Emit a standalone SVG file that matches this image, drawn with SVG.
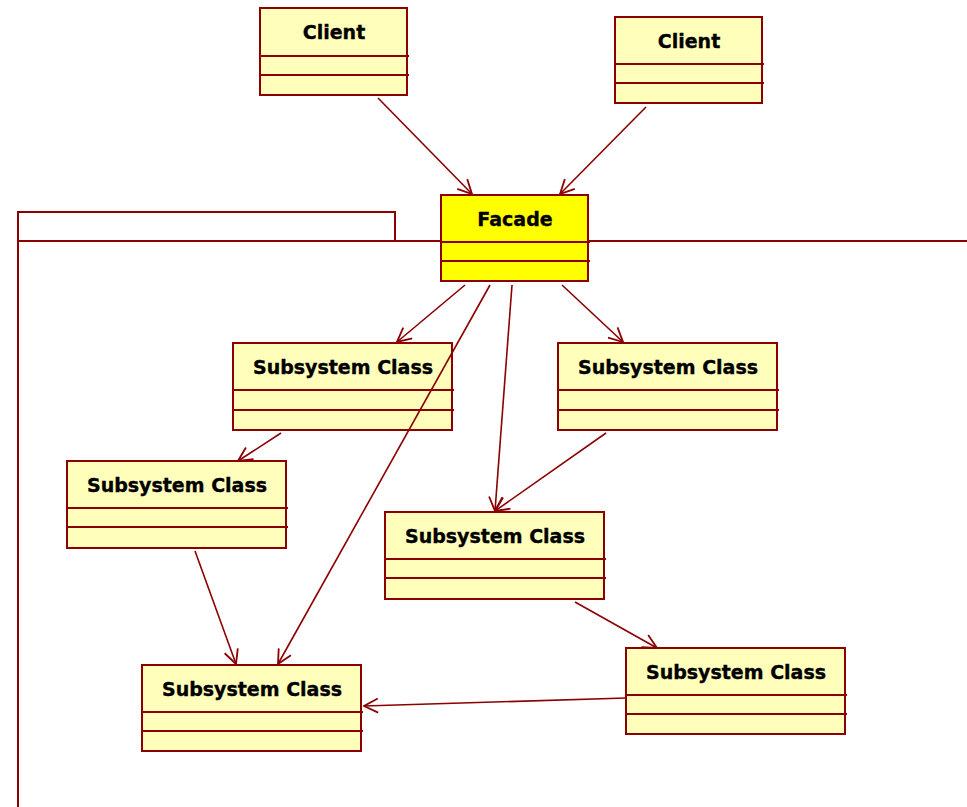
<svg xmlns="http://www.w3.org/2000/svg" width="967" height="807" viewBox="0 0 967 807">
  <style>
    .box { fill: #ffffbb; stroke: #8b0000; stroke-width: 2; }
    .facade { fill: #ffff00; }
    .sep { stroke: #8b0000; stroke-width: 2; }
    .pkg { fill: none; stroke: #8b0000; stroke-width: 2; }
    .name { font-family: "DejaVu Sans", Verdana, sans-serif; font-weight: bold; font-size: 19px; fill: #000; stroke: #000; stroke-width: 0.35; text-anchor: middle; }
    .conn line { stroke: #8b0000; stroke-width: 1.6; marker-end: url(#open); }
  </style>
  <defs>
    <marker id="open" viewBox="0 0 16 16" refX="15" refY="8" markerWidth="16" markerHeight="16" markerUnits="userSpaceOnUse" orient="auto">
      <path d="M1,1 L15,8 L1,15" fill="none" stroke="#8b0000" stroke-width="1.8"/>
    </marker>
  </defs>
  <rect width="967" height="807" fill="#ffffff"/>

  <!-- subsystem package outline -->
  <g id="package">
    <path class="pkg" d="M18,807 V212 H395 V241"/>
    <line class="pkg" x1="18" y1="241" x2="967" y2="241"/>
  </g>

  <g id="client1">
    <rect class="box" x="260" y="8" width="147" height="87"/>
    <line class="sep" x1="260" y1="56" x2="409" y2="56"/>
    <line class="sep" x1="260" y1="75" x2="409" y2="75"/>
    <text class="name" x="334" y="39">Client</text>
  </g>

  <g id="client2">
    <rect class="box" x="615" y="17" width="147" height="86"/>
    <line class="sep" x1="615" y1="64" x2="764" y2="64"/>
    <line class="sep" x1="615" y1="83" x2="764" y2="83"/>
    <text class="name" x="689" y="48">Client</text>
  </g>

  <g id="facade">
    <rect class="box facade" x="441" y="195" width="147" height="86"/>
    <line class="sep" x1="441" y1="242" x2="590" y2="242"/>
    <line class="sep" x1="441" y1="261" x2="590" y2="261"/>
    <text class="name" x="515" y="226">Facade</text>
  </g>

  <g id="subsystem1">
    <rect class="box" x="233" y="343" width="219" height="87"/>
    <line class="sep" x1="233" y1="390" x2="454" y2="390"/>
    <line class="sep" x1="233" y1="410" x2="454" y2="410"/>
    <text class="name" x="343" y="374">Subsystem Class</text>
  </g>

  <g id="subsystem2">
    <rect class="box" x="558" y="343" width="219" height="87"/>
    <line class="sep" x1="558" y1="390" x2="779" y2="390"/>
    <line class="sep" x1="558" y1="410" x2="779" y2="410"/>
    <text class="name" x="668" y="374">Subsystem Class</text>
  </g>

  <g id="subsystem3">
    <rect class="box" x="67" y="461" width="219" height="87"/>
    <line class="sep" x1="67" y1="508" x2="288" y2="508"/>
    <line class="sep" x1="67" y1="527" x2="288" y2="527"/>
    <text class="name" x="177" y="492">Subsystem Class</text>
  </g>

  <g id="subsystem4">
    <rect class="box" x="385" y="512" width="219" height="87"/>
    <line class="sep" x1="385" y1="559" x2="606" y2="559"/>
    <line class="sep" x1="385" y1="578" x2="606" y2="578"/>
    <text class="name" x="495" y="543">Subsystem Class</text>
  </g>

  <g id="subsystem5">
    <rect class="box" x="142" y="665" width="219" height="86"/>
    <line class="sep" x1="142" y1="712" x2="363" y2="712"/>
    <line class="sep" x1="142" y1="731" x2="363" y2="731"/>
    <text class="name" x="252" y="696">Subsystem Class</text>
  </g>

  <g id="subsystem6">
    <rect class="box" x="626" y="648" width="219" height="86"/>
    <line class="sep" x1="626" y1="695" x2="847" y2="695"/>
    <line class="sep" x1="626" y1="714" x2="847" y2="714"/>
    <text class="name" x="736" y="679">Subsystem Class</text>
  </g>

  <!-- associations, drawn over the class boxes -->
  <g id="connectors" class="conn">
    <line x1="378" y1="98" x2="472" y2="194"/>
    <line x1="646" y1="107" x2="560" y2="194"/>
    <line x1="465" y1="285" x2="397" y2="342"/>
    <line x1="490" y1="285" x2="278" y2="664"/>
    <line x1="512" y1="285" x2="495" y2="511"/>
    <line x1="562" y1="285" x2="623" y2="342"/>
    <line x1="281" y1="433" x2="238" y2="461"/>
    <line x1="606" y1="433" x2="495" y2="511"/>
    <line x1="195" y1="551" x2="236" y2="664"/>
    <line x1="575" y1="602" x2="657" y2="648"/>
    <line x1="626" y1="698" x2="364" y2="706"/>
  </g>
</svg>
